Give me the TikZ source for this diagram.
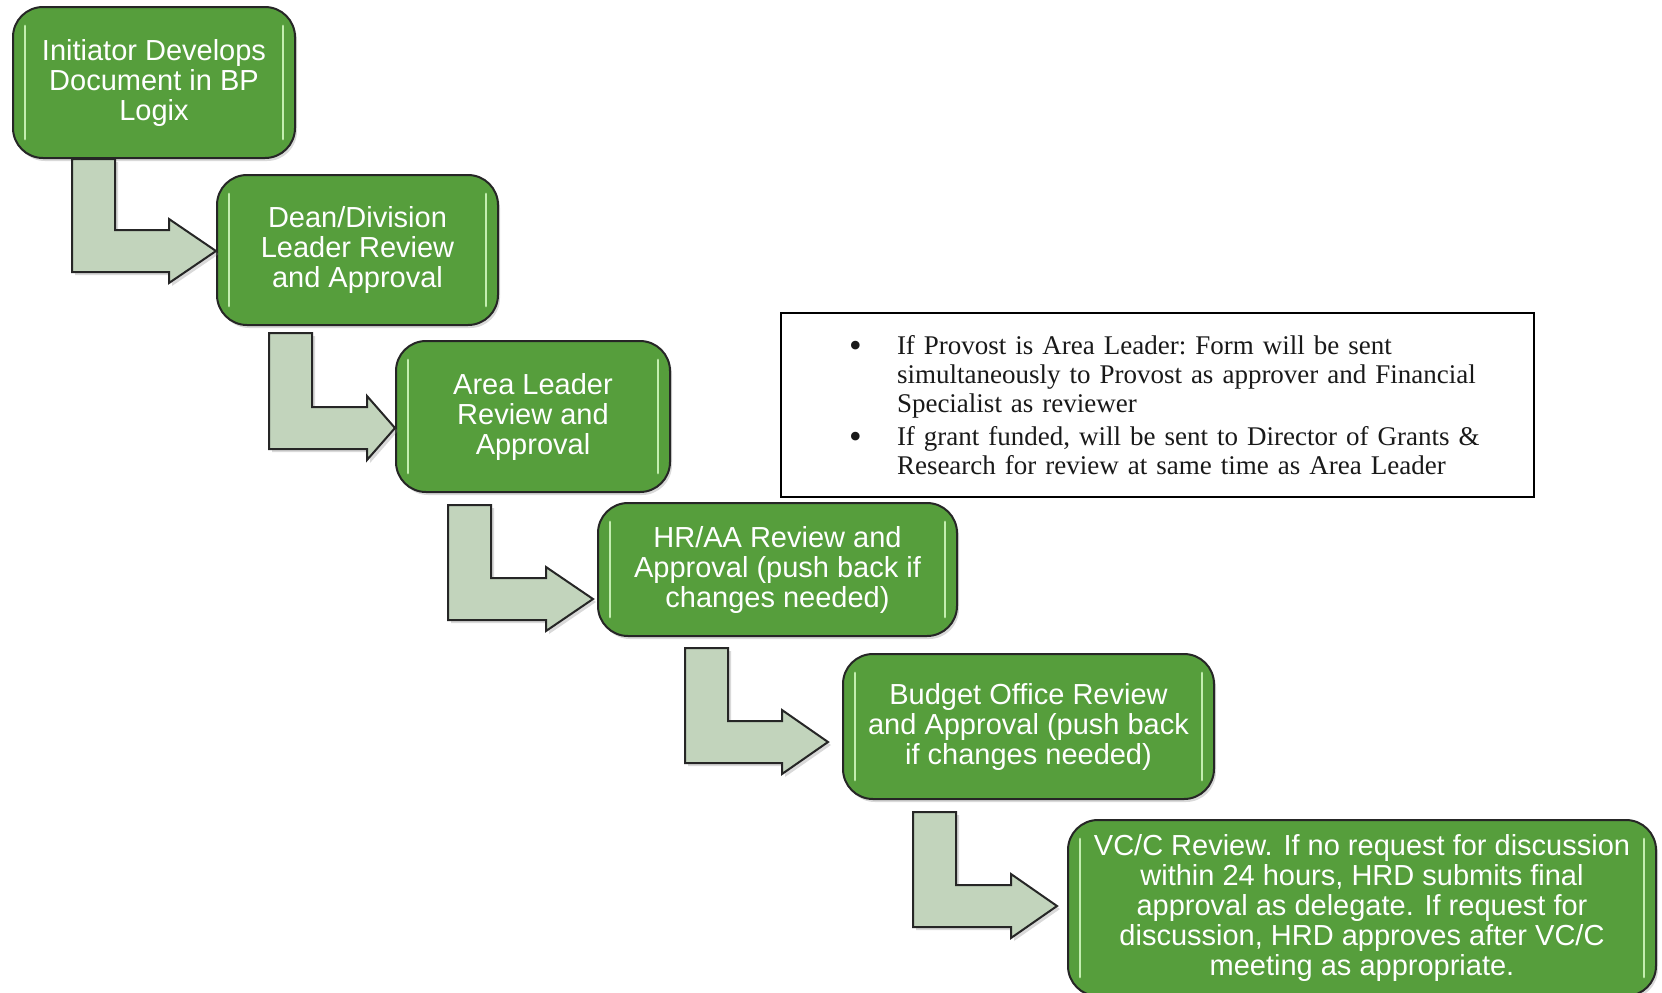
\documentclass[tikz,border=0pt]{standalone}
\usepackage{fontspec}
\setmainfont{Liberation Serif}
\setsansfont{Liberation Sans}
\usetikzlibrary{calc,shadows}

\definecolor{stepgreen}{RGB}{86,158,60}
\definecolor{glossgreen}{RGB}{196,238,176}
\definecolor{arrowfill}{RGB}{194,212,188}

\newcommand\brk{\hfil\break}
\newcommand\notebullet{\makebox[24pt][l]{\raisebox{-1.5pt}{\fontsize{18}{14.7}\selectfont\textbullet}}}

\tikzset{
  stepbox/.style={draw=black!85, line width=1pt, fill=stepgreen, rounded corners=15pt,
    text=white, align=center, inner sep=2pt,
    font=\sffamily\fontsize{14.5}{15}\selectfont,
    drop shadow={opacity=0.3, shadow xshift=1pt, shadow yshift=-1.5pt}},
  gloss/.style={glossgreen, line width=1.4pt, line cap=round},
  bentarrow/.style={draw=black!85, line width=1pt, fill=arrowfill, line join=miter,
    drop shadow={opacity=0.3, shadow xshift=1.5pt, shadow yshift=-1.5pt}},
  notebox/.style={draw, line width=1pt, inner sep=0pt, text width=376.5pt,
    minimum height=92pt, text=black!90, font=\rmfamily\fontsize{13.5}{14.7}\selectfont}
}

\begin{document}
\begin{tikzpicture}[x=0.5pt, y=-0.5pt]
  \clip (0,0) rectangle (1662,992);

  \node[stepbox, minimum width=141pt, minimum height=75.5pt] (initiator) at (154,82.5)
    {Initiator Develops\\Document in BP\\Logix};
  \node[stepbox, minimum width=140.5pt, minimum height=75pt] (dean) at (357.5,250)
    {Dean/Division\\Leader Review\\and Approval};
  \node[stepbox, minimum width=137pt, minimum height=75.5pt] (area) at (533,416.5)
    {Area Leader\\Review and\\Approval};
  \node[stepbox, minimum width=179.5pt, minimum height=66.5pt] (hraa) at (777.5,569.5)
    {HR/AA Review and\\Approval (push back if\\changes needed)};
  \node[stepbox, minimum width=185.5pt, minimum height=72.5pt] (budget) at (1028.5,726.5)
    {Budget Office Review\\and Approval (push back\\if changes needed)};
  \node[stepbox, minimum width=294pt, minimum height=88pt] (vcc) at (1362,908)
    {VC/C Review. If no request for discussion\\within 24 hours, HRD submits final\\approval as delegate. If request for\\discussion, HRD approves after VC/C\\meeting as appropriate.};

  \foreach \b in {initiator,dean,area,hraa,budget,vcc} {
    \draw[gloss] ([shift={(6.5pt,-10pt)}]\b.north west) -- ([shift={(6.5pt,10pt)}]\b.south west);
    \draw[gloss] ([shift={(-6.5pt,-10pt)}]\b.north east) -- ([shift={(-6.5pt,10pt)}]\b.south east);
  }

  \foreach \src/\tgt/\sx/\gap/\by/\hl/\tg in {initiator/dean/72/0/272/47/0,
      dean/area/269/7/449/28/0, area/hraa/448/12/620/47/4,
      hraa/budget/685/11/763/46/14, budget/vcc/913/12/927/46/10} {
    \draw[bentarrow] let \p1=(\src.south), \p2=(\tgt.west), \p3=(\sx,\by) in
      ({\x3},{\y1-\gap*0.5pt}) -- ({\x3+21.5pt},{\y1-\gap*0.5pt})
      -- ({\x3+21.5pt},{\y3+21pt}) -- ({\x2-(\tg+\hl)*0.5pt},{\y3+21pt})
      -- ({\x2-(\tg+\hl)*0.5pt},{\y3+26.5pt}) -- ({\x2-\tg*0.5pt},{\y3+10.5pt})
      -- ({\x2-(\tg+\hl)*0.5pt},{\y3-5.5pt}) -- ({\x2-(\tg+\hl)*0.5pt},{\y3})
      -- ({\x3},{\y3}) -- cycle;
  }

  \node[notebox] (note) at (1157.5,405) {\frenchspacing\leftskip=34pt
    \hangindent=24pt\hangafter=1\noindent\notebullet If Provost is Area Leader: Form will be sent\brk
    simultaneously to Provost as approver and Financial\brk
    Specialist as reviewer\par\vspace{1.5pt}
    \hangindent=24pt\hangafter=1\noindent\notebullet If grant funded, will be sent to Director of Grants \&\brk
    Research for review at same time as Area Leader\par};
\end{tikzpicture}
\end{document}
